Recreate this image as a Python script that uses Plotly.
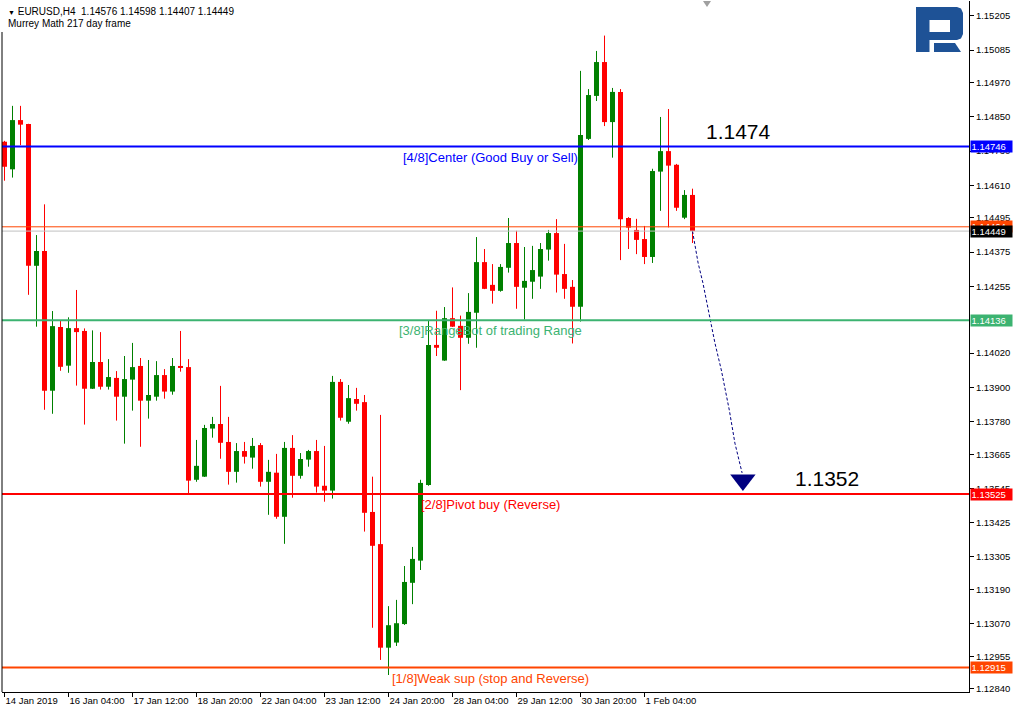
import plotly.graph_objects as go

# ---------------- data ----------------
tick_idx = [0, 8, 16, 24, 32, 40, 48, 56, 64, 72, 80]
tick_labels = ["14 Jan 2019", "16 Jan 04:00", "17 Jan 12:00", "18 Jan 20:00", "22 Jan 04:00",
               "23 Jan 12:00", "24 Jan 20:00", "28 Jan 04:00", "29 Jan 12:00", "30 Jan 20:00",
               "1 Feb 04:00"]

open_ = [1.14763, 1.14666, 1.14839, 1.14825, 1.14327, 1.14379, 1.13888, 1.14112, 1.13976, 1.14108,
         1.14098, 1.13895, 1.13989, 1.13902, 1.13933, 1.13867, 1.13927, 1.13975, 1.13853, 1.13867,
         1.13943, 1.13885, 1.13975, 1.13971, 1.13575, 1.13586, 1.13755, 1.13771, 1.13708, 1.13603,
         1.13676, 1.13653, 1.13697, 1.13568, 1.13600, 1.13445, 1.13687, 1.13589, 1.13646, 1.13676,
         1.13554, 1.13537, 1.13919, 1.13779, 1.13859, 1.13848, 1.13462, 1.13349, 1.12985, 1.13003,
         1.13068, 1.13213, 1.13291, 1.13557, 1.14049, 1.13994, 1.14143, 1.14116, 1.14074, 1.14162,
         1.14340, 1.14260, 1.14239, 1.14320, 1.14407, 1.14250, 1.14271, 1.14289, 1.14384, 1.14442,
         1.14298, 1.14253, 1.14183, 1.14773, 1.14924, 1.15043, 1.14832, 1.14938, 1.14495, 1.14453,
         1.14421, 1.14358, 1.14658, 1.14730, 1.14682, 1.14496, 1.14576]

high = [1.14766, 1.14889, 1.14889, 1.14826, 1.14435, 1.14543, 1.14168, 1.14134, 1.14146, 1.14242,
        1.14107, 1.14100, 1.14094, 1.13999, 1.13957, 1.14010, 1.14056, 1.14003, 1.13996, 1.13992,
        1.13964, 1.14003, 1.14098, 1.13999, 1.13715, 1.13768, 1.13796, 1.13905, 1.13796, 1.13704,
        1.13708, 1.13722, 1.13704, 1.13645, 1.13666, 1.13708, 1.13732, 1.13669, 1.13680, 1.13715,
        1.13694, 1.13940, 1.13929, 1.13908, 1.13898, 1.13873, 1.13586, 1.13803, 1.13131, 1.13153,
        1.13272, 1.13339, 1.13575, 1.14133, 1.14169, 1.14182, 1.14251, 1.14152, 1.14231, 1.14428,
        1.14386, 1.14333, 1.14333, 1.14495, 1.14450, 1.14393, 1.14397, 1.14407, 1.14453, 1.14491,
        1.14404, 1.14277, 1.15012, 1.14948, 1.15082, 1.15136, 1.14952, 1.14948, 1.14498, 1.14492,
        1.14467, 1.14668, 1.14850, 1.14878, 1.14685, 1.14593, 1.14598]

low = [1.14626, 1.14637, 1.14751, 1.14225, 1.14113, 1.13821, 1.13807, 1.13958, 1.13951, 1.13906,
       1.13769, 1.13894, 1.13892, 1.13892, 1.13783, 1.13702, 1.13818, 1.13691, 1.13790, 1.13853,
       1.13860, 1.13874, 1.13955, 1.13528, 1.13568, 1.13585, 1.13723, 1.13649, 1.13558, 1.13565,
       1.13632, 1.13614, 1.13551, 1.13452, 1.13438, 1.13350, 1.13512, 1.13579, 1.13621, 1.13530,
       1.13498, 1.13509, 1.13783, 1.13772, 1.13818, 1.13393, 1.13055, 1.12942, 1.12889, 1.12991,
       1.13065, 1.13138, 1.13258, 1.13554, 1.14010, 1.13993, 1.14112, 1.13890, 1.14053, 1.14039,
       1.14245, 1.14194, 1.14236, 1.14303, 1.14176, 1.14138, 1.14211, 1.14246, 1.14345, 1.14233,
       1.14211, 1.14054, 1.14131, 1.14769, 1.14906, 1.14818, 1.14707, 1.14347, 1.14386, 1.14368,
       1.14333, 1.14337, 1.14520, 1.14462, 1.14520, 1.14491, 1.14407]

close = [1.14675, 1.14839, 1.14823, 1.14327, 1.14379, 1.13888, 1.14115, 1.13972, 1.14108, 1.14094,
         1.13895, 1.13989, 1.13902, 1.13936, 1.13867, 1.13929, 1.13971, 1.13853, 1.13873, 1.13943,
         1.13885, 1.13975, 1.13968, 1.13572, 1.13624, 1.13757, 1.13771, 1.13705, 1.13603, 1.13676,
         1.13656, 1.13694, 1.13568, 1.13603, 1.13445, 1.13687, 1.13589, 1.13648, 1.13676, 1.13551,
         1.13537, 1.13919, 1.13793, 1.13862, 1.13842, 1.13459, 1.13343, 1.12985, 1.13064, 1.13071,
         1.13216, 1.13297, 1.13564, 1.14049, 1.14039, 1.14143, 1.14113, 1.14074, 1.14165, 1.14340,
         1.14246, 1.14239, 1.14323, 1.14407, 1.14253, 1.14274, 1.14312, 1.14386, 1.14442, 1.14296,
         1.14246, 1.14183, 1.14787, 1.14927, 1.15043, 1.14832, 1.14938, 1.14491, 1.14461, 1.14418,
         1.14358, 1.14660, 1.14730, 1.14679, 1.14531, 1.14576, 1.14449]

price_ticks = [1.15205, 1.15085, 1.14970, 1.14850, 1.14730, 1.14610, 1.14495, 1.14375, 1.14255,
               1.14020, 1.13900, 1.13780, 1.13665, 1.13545, 1.13425, 1.13305, 1.13190,
               1.13070, 1.12955, 1.12840]

level_names = ["[4/8]Center (Good Buy or Sell)", "[3/8]RangeBot of trading Range",
               "[2/8]Pivot buy (Reverse)", "[1/8]Weak sup (stop and Reverse)"]
level_values = [1.14746, 1.14136, 1.13525, 1.12915]
level_colors = ["#0000FF", "#3CB371", "#FF0000", "#FF4500"]
level_label_x = 60.8

bid_price = 1.14449
ask_price = 1.14464

forecast_x = [86, 86.7, 87.3, 88.2, 88.8, 89.6, 90.6, 91.3, 92.2]
forecast_y = [1.14449, 1.14337, 1.14267, 1.14137, 1.14056, 1.13961, 1.13820, 1.13704, 1.13599]
arrow_x = [92.3]
arrow_y = [1.13574]

target_texts = ["1.1474", "1.1352"]
target_x = [91.8, 102.8]
target_y = [1.14746, 1.13525]

symbol = "EURUSD,H4"
subtitle = "Murrey Math 217 day frame"

# ---------------- figure ----------------
FONT = "Liberation Sans, Arial, sans-serif"
W, H = 1013, 711
ML, MR, MT, MB = 2, 44, 1, 19
PW, PH = W - ML - MR, H - MT - MB


def P(px, py):
    return (px - ML) / PW, (MT + PH - py) / PH


def path(points):
    s = ""
    for i, (a, b) in enumerate(points):
        x, y = P(a, b)
        s += ("M" if i == 0 else "L") + f"{x:.5f},{y:.5f} "
    return s + "Z"


n = len(open_)
xs = list(range(n))
green_i = [i for i in xs if close[i] > open_[i]]
red_i = [i for i in xs if close[i] <= open_[i]]

fig = go.Figure()

for idx, col in ((green_i, "#008000"), (red_i, "#FF0000")):
    wx, wy = [], []
    for i in idx:
        wx += [i, i, None]
        wy += [low[i], high[i], None]
    fig.add_trace(go.Scatter(x=wx, y=wy, mode="lines", line=dict(color=col, width=1),
                             hoverinfo="skip", showlegend=False))
    fig.add_trace(go.Bar(x=idx, base=[min(open_[i], close[i]) for i in idx],
                         y=[max(abs(close[i] - open_[i]), 0.00004) for i in idx],
                         width=0.625, marker=dict(color=col, line=dict(width=0)),
                         showlegend=False, hoverinfo="skip"))

# forecast path
fig.add_trace(go.Scatter(x=forecast_x, y=forecast_y, mode="lines",
                         line=dict(color="#000080", width=1, dash="3px,2px"),
                         showlegend=False, hoverinfo="skip"))
fig.add_trace(go.Scatter(x=arrow_x, y=arrow_y, mode="markers",
                         marker=dict(symbol="triangle-down", size=22, color="#000080"),
                         showlegend=False, hoverinfo="skip"))

shapes = []
shapes.append(dict(type="line", xref="paper", x0=0, x1=1, yref="y", y0=ask_price, y1=ask_price,
                   line=dict(color="#FF4500", width=1)))
shapes.append(dict(type="line", xref="paper", x0=0, x1=1, yref="y", y0=bid_price, y1=bid_price,
                   line=dict(color="#C0C0C0", width=1)))
for v, c in zip(level_values, level_colors):
    shapes.append(dict(type="line", xref="paper", x0=0, x1=1, yref="y", y0=v, y1=v,
                       line=dict(color=c, width=2)))
shapes.append(dict(type="line", xref="paper", yref="paper", x0=0, x1=0, y0=0, y1=P(0, 32)[1],
                   line=dict(color="black", width=1)))
LOGO = "#1E5296"
shapes.append(dict(type="path", xref="paper", yref="paper", line=dict(width=0), fillcolor=LOGO,
                   path=path([(916, 7), (957, 7), (961, 8.5), (963, 13), (963, 34), (961, 38.5),
                              (957, 40), (929.5, 40), (929.5, 52), (916, 52)])))
shapes.append(dict(type="path", xref="paper", yref="paper", line=dict(width=0), fillcolor="white",
                   path=path([(929.5, 20), (950, 20), (950, 32), (929.5, 32)])))
shapes.append(dict(type="path", xref="paper", yref="paper", line=dict(width=0), fillcolor=LOGO,
                   path=path([(934, 43), (955, 43), (961, 52), (934, 52)])))
shapes.append(dict(type="path", xref="paper", yref="paper", line=dict(width=0), fillcolor="#A0A0A0",
                   path=path([(703, 1), (711, 1), (707, 7)])))

ann = []
ann.append(dict(xref="paper", yref="paper", x=P(6, 0)[0], y=P(0, 11.5)[1], xanchor="left",
                yanchor="middle", showarrow=False,
                text="<span style='font-size:7px'>▼</span> " + symbol + "  " +
                     " ".join(f"{v:.5f}" for v in (open_[-1], high[-1], low[-1], close[-1])),
                font=dict(family=FONT, size=10, color="black")))
ann.append(dict(xref="paper", yref="paper", x=P(6, 0)[0], y=P(0, 23.5)[1], xanchor="left",
                yanchor="middle", showarrow=False, text=subtitle,
                font=dict(family=FONT, size=10, color="black")))
for name, v, c in zip(level_names, level_values, level_colors):
    ann.append(dict(xref="x", yref="y", x=level_label_x, y=v, xanchor="center", yanchor="top",
                    showarrow=False, text=name, yshift=-1,
                    font=dict(family=FONT, size=13, color=c)))
for t, x, y in zip(target_texts, target_x, target_y):
    ann.append(dict(xref="x", yref="y", x=x, y=y, xanchor="center", yanchor="bottom",
                    showarrow=False, text=t, yshift=2,
                    font=dict(family=FONT, size=21, color="black")))
boxes = list(zip(level_values, level_colors)) + [(ask_price, "#FF4500"), (bid_price, "#000000")]
for v, c in boxes:
    ann.append(dict(xref="paper", yref="y", x=1, y=v, xanchor="left", yanchor="middle", xshift=1,
                    showarrow=False, text=f"{v:.5f}", bgcolor=c, width=40, height=10, borderpad=0.5,
                    align="left", font=dict(family=FONT, size=9.5, color="white")))

fig.update_layout(
    width=W, height=H, margin=dict(l=ML, r=MR, t=MT, b=MB),
    plot_bgcolor="white", paper_bgcolor="white", barmode="overlay", showlegend=False,
    shapes=shapes, annotations=ann,
    xaxis=dict(range=[-0.3125, 120.5625], showgrid=False, zeroline=False, showline=True,
               linecolor="black", linewidth=1, ticks="outside", ticklen=4, tickcolor="black",
               tickvals=tick_idx, ticktext=tick_labels, ticklabelposition="outside right",
               tickfont=dict(family=FONT, size=9.5, color="black"), fixedrange=True),
    yaxis=dict(range=[1.128293, 1.152575], side="right", showgrid=False, zeroline=False,
               showline=True, linecolor="black", linewidth=1, ticks="outside", ticklen=4,
               tickcolor="black", tickvals=price_ticks,
               ticktext=[f"{v:.5f}" for v in price_ticks],
               tickfont=dict(family=FONT, size=9.5, color="black"), fixedrange=True),
)

fig.write_html("out.html", config={"displayModeBar": False},
               post_script="document.body.style.margin='0';")
